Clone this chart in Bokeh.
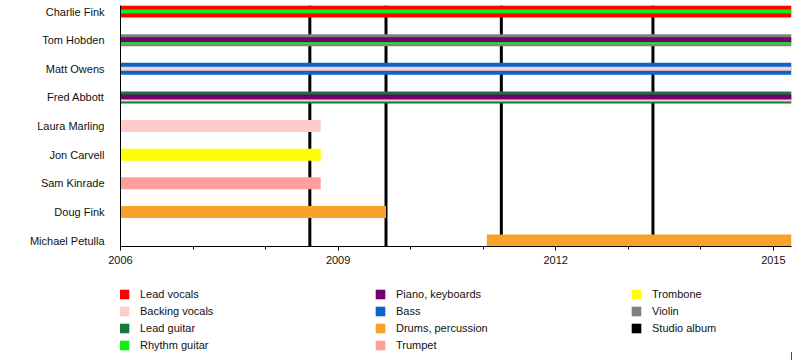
from bokeh.plotting import figure
from bokeh.models import Range1d, FixedTicker, Legend, LegendItem, ColumnDataSource
from bokeh.layouts import column
from bokeh.embed import file_html
from bokeh.resources import INLINE

# ---------------- data ----------------
members = ["Charlie Fink", "Tom Hobden", "Matt Owens", "Fred Abbott", "Laura Marling",
           "Jon Carvell", "Sam Kinrade", "Doug Fink", "Michael Petulla"]
starts = [2006.0, 2006.0, 2006.0, 2006.0, 2006.0, 2006.0, 2006.0, 2006.0, 2011.05]
ends = [2015.25, 2015.25, 2015.25, 2015.25, 2008.76, 2008.76, 2008.76, 2009.66, 2015.25]
main_role = ["Lead vocals", "Violin", "Bass", "Lead guitar", "Backing vocals",
             "Trombone", "Trumpet", "Drums, percussion", "Drums, percussion"]
second_role = ["Rhythm guitar", "Piano, keyboards", "Backing vocals", "Piano, keyboards",
               None, None, None, None, None]
third_role = [None, "Rhythm guitar", None, "Backing vocals", None, None, None, None, None]
albums = [2008.61, 2009.66, 2011.25, 2013.34]

roles = ["Lead vocals", "Backing vocals", "Lead guitar", "Rhythm guitar", "Piano, keyboards",
         "Bass", "Drums, percussion", "Trumpet", "Trombone", "Violin"]
role_colors = ["#ff0000", "#ffcccc", "#137a3c", "#11ee11", "#700070",
               "#0a66c8", "#f9a12b", "#ff9e9e", "#ffff00", "#808080"]
album_label = "Studio album"
album_color = "#000000"

year_ticks = [2006, 2009, 2012, 2015]
minor_years = [2006, 2007, 2008, 2009, 2010, 2011, 2012, 2013, 2014, 2015]
period_start, period_end = 2006.0, 2015.25

# ---------------- layout ----------------
W = 800
H1 = 270
BL, BR, BT = 120, 9, 5
FRAME_H = 241
BB = H1 - BT - FRAME_H
FRAME_W = W - BL - BR
H2 = 90
FONT = "Liberation Sans"
TXT = "#111111"

n = len(members)
row_px = 28.625
bar_px = 12.0
unit = 1.0 / row_px
y_lo = -(bar_px / 2) * unit
y_hi = (n - 1) + (bar_px / 2) * unit
x_per_px = (period_end - period_start) / FRAME_W

p = figure(width=W, height=H1, output_backend="svg", toolbar_location=None,
           x_range=Range1d(period_start, period_end), y_range=Range1d(y_lo, y_hi),
           min_border_left=BL, min_border_right=BR, min_border_top=BT, min_border_bottom=BB)
p.outline_line_color = None
p.xgrid.visible = False
p.ygrid.visible = False

# album lines (behind bars)
album_src = ColumnDataSource(dict(x=albums))
p.vbar(x="x", width=3 * x_per_px, bottom=y_lo, top=y_hi, source=album_src,
       fill_color=album_color, line_color=None)

# stripes
stripes = {r: dict(y=[], left=[], right=[], height=[]) for r in roles}
level = {r: 0 for r in roles}


def add(role, i, a, b, lev):
    ypos = (n - 1 - i)
    centre = ypos + (bar_px / 2 - (a + b) / 2) * unit
    d = stripes[role]
    d["y"].append(centre)
    d["left"].append(starts[i])
    d["right"].append(ends[i])
    d["height"].append((b - a) * unit)
    level[role] = max(level[role], lev)


for i in range(n):
    add(main_role[i], i, 0, 12, 0)
    if second_role[i] is not None:
        if third_role[i] is not None:
            add(second_role[i], i, 3, 8, 1)
            add(third_role[i], i, 8, 10, 2)
        else:
            add(second_role[i], i, 4, 8, 1)

sources = {r: ColumnDataSource(stripes[r]) for r in roles}
order = sorted(range(len(roles)), key=lambda k: level[roles[k]])
for k in order:
    r = roles[k]
    p.hbar(y="y", left="left", right="right", height="height", source=sources[r],
           fill_color=role_colors[k], line_color=None)

# axes
xa = p.xaxis[0]
xa.ticker = FixedTicker(ticks=year_ticks, minor_ticks=minor_years)
xa.axis_line_color = "black"
xa.major_tick_line_color = "black"
xa.minor_tick_line_color = "black"
xa.major_tick_out = 4
xa.major_tick_in = 0
xa.minor_tick_out = 3
xa.minor_tick_in = 0
xa.major_label_text_font = FONT
xa.major_label_text_font_size = "11px"
xa.major_label_text_color = TXT
xa.major_label_standoff = 5

ya = p.yaxis[0]
ya.ticker = FixedTicker(ticks=list(range(n)))
ya.major_label_overrides = {n - 1 - i: members[i] for i in range(n)}
ya.axis_line_color = "black"
ya.major_tick_line_color = None
ya.minor_tick_line_color = None
ya.major_label_standoff = 10
ya.major_label_text_font = FONT
ya.major_label_text_font_size = "11px"
ya.major_label_text_color = TXT

# ---------------- legend strip (frame aligned with the chart's frame) ----------------
q = figure(width=W, height=H2, output_backend="svg", toolbar_location=None,
           x_range=Range1d(0, FRAME_W), y_range=Range1d(0, H2),
           x_axis_location=None, y_axis_location=None,
           min_border_left=BL, min_border_right=BR, min_border_top=0, min_border_bottom=0)
q.outline_line_color = None
q.xgrid.visible = False
q.ygrid.visible = False

# swatch renderers share the chart's data; their marks fall outside this strip's range
swatch = {}
for k, r in enumerate(roles):
    swatch[r] = q.hbar(y="y", left="left", right="right", height="height", source=sources[r],
                       fill_color=role_colors[k], line_color=None)
swatch[album_label] = q.vbar(x="x", width=3 * x_per_px, bottom=y_lo, top=y_hi, source=album_src,
                             fill_color=album_color, line_color=None)

cols = [roles[0:4], roles[4:8], roles[8:10] + [album_label]]
col_x = [118 - BL, 374 - BL, 630 - BL]
top_off = 18
spacing = 5
for c, labels in enumerate(cols):
    items = [LegendItem(label=l, renderers=[swatch[l]]) for l in labels]
    m = len(items)
    lh = m * 12 + (m - 1) * spacing
    leg = Legend(items=items, location=(col_x[c], H2 - top_off - lh),
                 orientation="vertical", glyph_width=12, glyph_height=12, label_height=12,
                 label_standoff=10, spacing=spacing, padding=0, margin=0,
                 border_line_color=None, background_fill_alpha=0,
                 label_text_font=FONT, label_text_font_size="11px",
                 label_text_color=TXT)
    q.add_layout(leg, "center")

layout = column(p, q, spacing=0)
open("out.html", "w").write(file_html(layout, INLINE))
